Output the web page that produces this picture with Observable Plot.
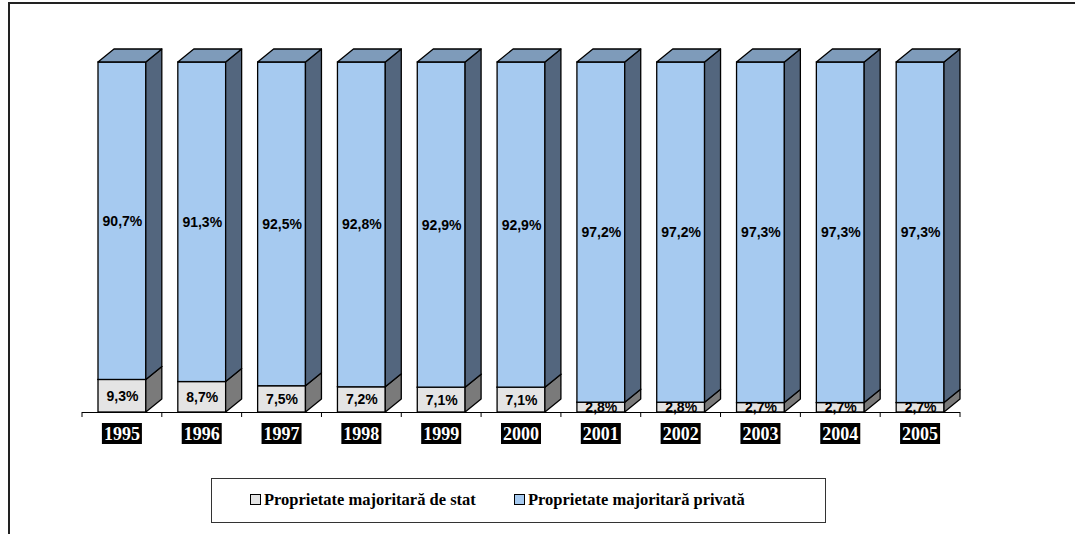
<!DOCTYPE html>
<html>
<head>
<meta charset="utf-8">
<script src="https://cdn.jsdelivr.net/npm/d3@7"></script>
<script src="https://cdn.jsdelivr.net/npm/@observablehq/plot@0.6"></script>
<style>
  html, body { margin: 0; padding: 0; background: #fff; }
  #wrap { position: relative; width: 1075px; height: 534px; overflow: hidden; }
  #frameTop { position: absolute; left: 8px; top: 2px; width: 1067px; height: 2px; background: #222; }
  #frameLeft { position: absolute; left: 8px; top: 2px; width: 2px; height: 532px; background: #222; }
  #chart { position: absolute; left: 0; top: 0; }
  #legend { position: absolute; left: 211px; top: 478px; width: 613px; height: 43px;
    border: 1px solid #333; box-sizing: content-box;
    font-family: "Liberation Serif", "Times New Roman", serif; font-weight: bold; font-size: 16.5px; color: #000; }
  .item { position: absolute; top: 11px; white-space: nowrap; }
  .sw { display: inline-block; width: 9px; height: 9px; border: 1px solid #000; margin-right: 3px; vertical-align: 0px; }
</style>
</head>
<body>
<div id="wrap">
  <div id="chart"></div>
  <div id="frameTop"></div>
  <div id="frameLeft"></div>
  <div id="legend"></div>
</div>
<script>
const years = ["1995","1996","1997","1998","1999","2000","2001","2002","2003","2004","2005"];
const stateShare = [9.3, 8.7, 7.5, 7.2, 7.1, 7.1, 2.8, 2.8, 2.7, 2.7, 2.7];
const privateShare = [90.7, 91.3, 92.5, 92.8, 92.9, 92.9, 97.2, 97.2, 97.3, 97.3, 97.3];
const seriesNames = ["Proprietate majoritară de stat", "Proprietate majoritară privată"];
const fmt = v => v.toFixed(1).replace(".", ",") + "%";

const COLORS = {
  state: {front: "#E4E4E4", side: "#7A7A7A", top: "#9A9A9A"},
  priv: {front: "#A6CAF0", side: "#53667E", top: "#7E9BBA"}
};
const DX = 16, DY = 13, INSET = 16;

// Segments table
const segs = [];
years.forEach((yr, i) => {
  segs.push({year: yr, key: "state", y1: 0, y2: stateShare[i], label: fmt(stateShare[i])});
  segs.push({year: yr, key: "priv", y1: stateShare[i], y2: stateShare[i] + privateShare[i], label: fmt(privateShare[i])});
});

function faces(key, which) {
  return (index, scales, values, dimensions) => {
    const g = d3.create("svg:g");
    const bw = scales.x(years[1]) - scales.x(years[0]);
    for (const s of segs.filter(d => d.key === key)) {
      const x0 = scales.x(s.year) + INSET, x1 = scales.x(s.year) + bw - INSET;
      const ya = scales.y(s.y2), yb = scales.y(s.y1);
      let pts;
      if (which === "side") pts = [[x1, ya], [x1 + DX, ya - DY], [x1 + DX, yb - DY], [x1, yb]];
      else pts = [[x0, ya], [x0 + DX, ya - DY], [x1 + DX, ya - DY], [x1, ya]];
      g.append("path")
        .attr("d", "M" + pts.map(p => p.join(",")).join("L") + "Z")
        .attr("fill", COLORS[key][which])
        .attr("stroke", "#000").attr("stroke-width", 1.3).attr("stroke-linejoin", "round");
    }
    return g.node();
  };
}

function axisDecor(index, scales, values, dimensions) {
  const g = d3.create("svg:g");
  const bw = scales.x(years[1]) - scales.x(years[0]);
  const y0 = scales.y(0);
  const bounds = years.map(y => scales.x(y)).concat([scales.x(years[years.length - 1]) + bw]);
  bounds.forEach(bx => {
    g.append("line").attr("x1", bx).attr("x2", bx).attr("y1", y0).attr("y2", y0 + 5)
      .attr("stroke", "#000").attr("stroke-width", 1);
  });
  years.forEach(yr => {
    const cx = scales.x(yr) + bw / 2;
    g.append("rect").attr("x", cx - 20).attr("y", y0 + 11).attr("width", 40).attr("height", 21).attr("fill", "#000");
    g.append("text").attr("x", cx).attr("y", y0 + 28).attr("text-anchor", "middle")
      .attr("fill", "#fff").attr("font-family", "Liberation Serif, Times New Roman, serif")
      .attr("font-weight", "bold").attr("font-size", 18).text(yr);
  });
  return g.node();
}

const chart = Plot.plot({
  width: 1075,
  height: 534,
  marginLeft: 82,
  marginRight: 115,
  marginTop: 62,
  marginBottom: 122,
  style: {background: "transparent"},
  x: {type: "band", domain: years, padding: 0, round: false, axis: null},
  y: {domain: [0, 100], axis: null},
  marks: [
    faces("state", "top"),
    Plot.rectY(segs.filter(d => d.key === "state"), {x: "year", y1: "y1", y2: "y2", insetLeft: INSET, insetRight: INSET,
      fill: COLORS.state.front, stroke: "#000", strokeWidth: 1.3}),
    faces("state", "side"),
    Plot.rectY(segs.filter(d => d.key === "priv"), {x: "year", y1: "y1", y2: "y2", insetLeft: INSET, insetRight: INSET,
      fill: COLORS.priv.front, stroke: "#000", strokeWidth: 1.3}),
    faces("priv", "side"),
    faces("priv", "top"),
    Plot.ruleY([0], {stroke: "#000", strokeWidth: 1.2}),
    Plot.text(segs, {x: "year", y: d => (d.y1 + d.y2) / 2, text: "label",
      fontFamily: "Liberation Sans, Arial, sans-serif", fontWeight: "bold", fontSize: 14, fill: "#000"}),
    axisDecor
  ]
});
document.getElementById("chart").appendChild(chart);

const legend = document.getElementById("legend");
const legendItems = [
  {name: seriesNames[0], color: COLORS.state.front, left: 38},
  {name: seriesNames[1], color: COLORS.priv.front, left: 302}
];
legendItems.forEach(it => {
  const d = document.createElement("div");
  d.className = "item";
  d.style.left = it.left + "px";
  const sw = document.createElement("span");
  sw.className = "sw";
  sw.style.background = it.color;
  d.appendChild(sw);
  d.appendChild(document.createTextNode(it.name));
  legend.appendChild(d);
});
</script>
</body>
</html>
